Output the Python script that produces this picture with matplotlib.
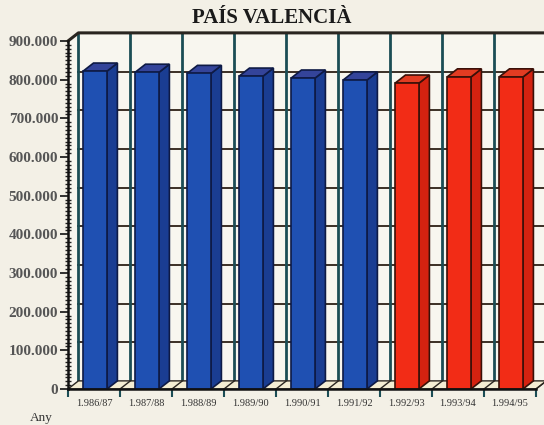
import matplotlib.pyplot as plt
from matplotlib.patches import Polygon
from matplotlib.ticker import FuncFormatter, MultipleLocator, FixedLocator

plt.rcParams['font.family'] = ['Liberation Serif', 'DejaVu Serif']

seasons = ["1.986/87", "1.987/88", "1.988/89", "1.989/90", "1.990/91",
           "1.991/92", "1.992/93", "1.993/94", "1.994/95"]
values = [822000, 819000, 816000, 809000, 804000, 799000, 791000, 807000, 807000]
n_blue = 6  # first six seasons in blue, rest in red

BG = '#f3f0e6'
WALL = '#f8f6ef'
FLOOR = '#f4edd3'
VGRID = '#1b4d55'
HGRID = '#3b2f25'
blue = dict(front='#1f50b2', side='#1a3d92', top='#34449a', edge='#0e1a45')
red = dict(front='#f22c16', side='#d42210', top='#e23c22', edge='#3a1008')

fig = plt.figure(figsize=(5.44, 4.25), dpi=100, facecolor=BG)
ax = fig.add_axes([68 / 544, 36 / 425, 468 / 544, 348 / 425])
n = len(seasons)
ymax = 900000
ax.set_xlim(0, n)
ax.set_ylim(0, ymax)
ax.patch.set_alpha(0)

DX, DY = 0.2, 21000

# back wall, left wall and floor
ax.add_patch(Polygon([(DX, DY), (n + DX, DY), (n + DX, ymax + DY), (DX, ymax + DY)],
                     closed=True, facecolor=WALL, edgecolor='none', clip_on=False, zorder=0))
ax.add_patch(Polygon([(0, 0), (DX, DY), (DX, ymax + DY), (0, ymax)],
                     closed=True, facecolor=WALL, edgecolor='none', clip_on=False, zorder=0))
for v in range(100000, ymax, 100000):
    ax.plot([DX, n + DX], [v + DY, v + DY], color=HGRID, lw=1.4, clip_on=False, zorder=1)
for k in range(n + 1):
    ax.plot([k + DX, k + DX], [DY, ymax + DY], color=VGRID, lw=2, clip_on=False, zorder=1)
ax.plot([0, DX, n + DX], [ymax, ymax + DY, ymax + DY], color='#2a2520', lw=2.2,
        clip_on=False, zorder=2)
ax.add_patch(Polygon([(0, 0), (n, 0), (n + DX, DY), (DX, DY)], closed=True,
                     facecolor=FLOOR, edgecolor='#2a2520', lw=1, clip_on=False, zorder=2))
for k in range(1, n + 1):
    ax.plot([k, k + DX], [0, DY], color='#2a2520', lw=1, clip_on=False, zorder=2)

# 3D bars
for i, v in enumerate(values):
    c = blue if i < n_blue else red
    x0, x1 = i + 0.29, i + 0.75
    front = [(x0, 0), (x1, 0), (x1, v), (x0, v)]
    side = [(x1, 0), (x1 + DX, DY), (x1 + DX, v + DY), (x1, v)]
    top = [(x0, v), (x1, v), (x1 + DX, v + DY), (x0 + DX, v + DY)]
    for pts, key in ((side, 'side'), (top, 'top'), (front, 'front')):
        ax.add_patch(Polygon(pts, closed=True, facecolor=c[key], edgecolor=c['edge'],
                             lw=1.2, clip_on=False, zorder=3))

# axes
for s in ('top', 'right'):
    ax.spines[s].set_visible(False)
for s in ('left', 'bottom'):
    ax.spines[s].set_color('#111111')
    ax.spines[s].set_linewidth(1.8)
    ax.spines[s].set_zorder(4)

ax.yaxis.set_major_locator(MultipleLocator(100000))
ax.yaxis.set_minor_locator(MultipleLocator(10000))
ax.yaxis.set_major_formatter(FuncFormatter(
    lambda v, p: '0' if v == 0 else f'{int(v):,}'.replace(',', '.')))
ax.tick_params(axis='y', which='major', direction='out', length=6, width=1.3,
               color='#222222', labelsize=11, labelcolor='#555555', pad=1)
ax.tick_params(axis='y', which='minor', direction='inout', length=4, width=1,
               color='#222222')
for t in ax.get_yticklabels():
    t.set_fontweight('bold')

ax.xaxis.set_major_locator(FixedLocator(range(n + 1)))
ax.xaxis.set_minor_locator(FixedLocator([k + 0.5 for k in range(n)]))
ax.xaxis.set_major_formatter(FuncFormatter(lambda v, p: ''))
ax.set_xticklabels(seasons, minor=True)
ax.tick_params(axis='x', which='major', direction='out', length=6, width=1.5,
               color=VGRID)
ax.tick_params(axis='x', which='minor', length=0, labelsize=7.5,
               labelcolor='#333333', pad=7)

fig.text(0.5, 1 - 18 / 425, 'PAÍS VALENCIÀ', ha='center', va='center',
         fontsize=15, fontweight='bold', color='#1a1a1a')
fig.text(30 / 544, 1 - 418 / 425, 'Any', ha='left', va='center',
         fontsize=9.5, color='#333333')

fig.savefig('out.png', dpi=100, facecolor=BG)
